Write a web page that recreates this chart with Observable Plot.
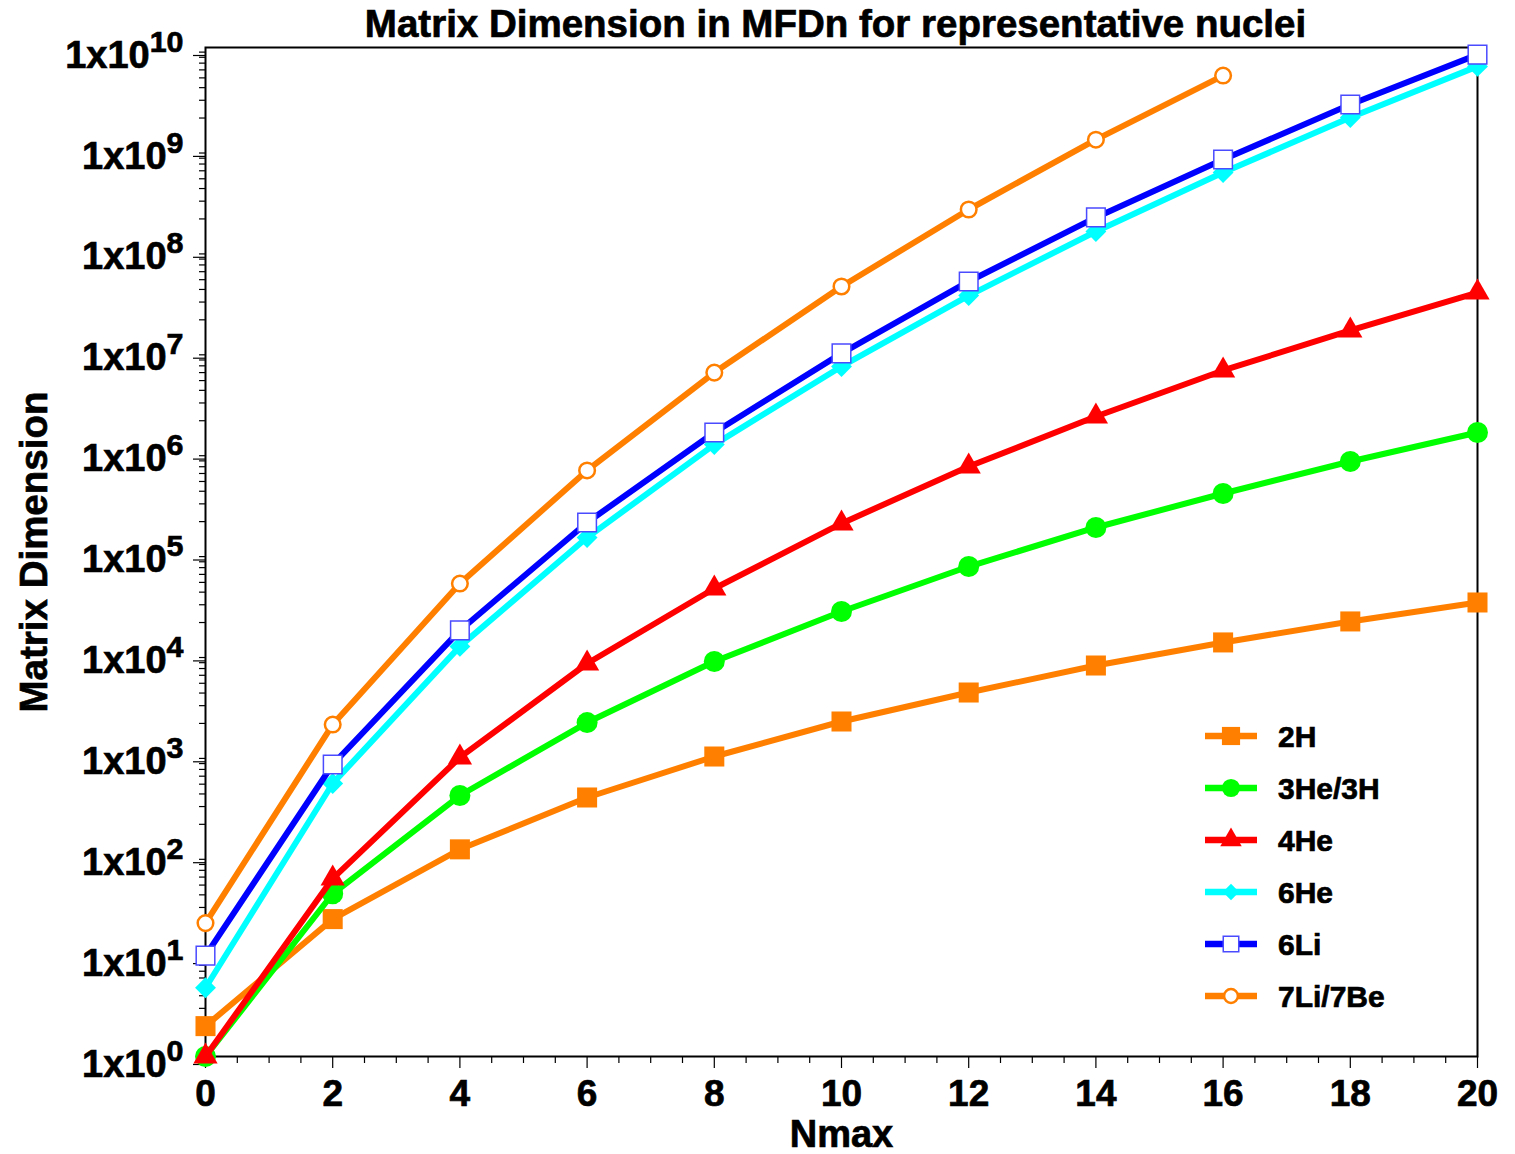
<!DOCTYPE html>
<html><head><meta charset="utf-8">
<script src="https://cdn.jsdelivr.net/npm/d3@7"></script>
<script src="https://cdn.jsdelivr.net/npm/@observablehq/plot@0.6"></script>
<style>
body{margin:0;background:#fff}
#chart svg{display:block}
#chart svg text{stroke:black;stroke-width:0.7px}
</style>
</head><body><div id="chart"></div>
<script>
// ---- data ----
const nmax     = [0, 2, 4, 6, 8, 10, 12, 14, 16, 18, 20];
const nmax7    = [0, 2, 4, 6, 8, 10, 12, 14, 16];
const dim2H    = [2, 23, 113, 369, 940, 2090, 4050, 7500, 12700, 20500, 31600];
const dim3He   = [1, 41, 386, 2040, 8220, 25700, 71800, 175000, 380000, 789000, 1530000];
const dim4He   = [1, 58, 920, 7850, 43500, 192000, 703000, 2200000, 6300000, 15700000, 37300000];
const dim6He   = [4.8, 508, 11600, 139000, 1160000, 6900000, 34800000, 150000000, 577000000, 2020000000, 6500000000];
const dim6Li   = [10, 783, 16700, 196000, 1530000, 9300000, 48000000, 207000000, 776000000, 2720000000, 8500000000];
const dim7Li   = [21, 1950, 48700, 643000, 6000000, 42800000, 248000000, 1220000000, 5270000000];
const seriesNames = ["2H", "3He/3H", "4He", "6He", "6Li", "7Li/7Be"];
const xTicks = [0, 2, 4, 6, 8, 10, 12, 14, 16, 18, 20];
const yExponents = [0, 1, 2, 3, 4, 5, 6, 7, 8, 9, 10];
const titleText = "Matrix Dimension in MFDn for representative nuclei";
const xLabel = "Nmax";
const yLabel = "Matrix Dimension";

// ---- styles ----
const ORANGE = "#ff8000";
const styles = [
  {color: ORANGE,   symbol: "square",   r: 11.3, fill: ORANGE,   stroke: "none",    sw: 0,   lsym: d3.symbolSquare,   lsize: 330},
  {color: "#00ff00", symbol: "circle",   r: 10.5, fill: "#00ff00", stroke: "none",    sw: 0,   lsym: d3.symbolCircle,   lsize: 260},
  {color: "#ff0000", symbol: "triangle", r: 9,    fill: "#ff0000", stroke: "none",    sw: 0,   lsym: d3.symbolTriangle, lsize: 200},
  {color: "#00ffff", symbol: "diamond2", r: 9.4,  fill: "#00ffff", stroke: "none",    sw: 0,   lsym: d3.symbolDiamond2, lsize: 170},
  {color: "#0000ff", symbol: "square",   r: 10.5, fill: "#ffffff", stroke: "#4a4aff", sw: 1.5, lsym: d3.symbolSquare,   lsize: 240},
  {color: ORANGE,   symbol: "circle",   r: 7.8,  fill: "#ffffff", stroke: ORANGE,   sw: 2.5, lsym: d3.symbolCircle,   lsize: 150}
];

const seriesData = [
  [nmax, dim2H], [nmax, dim3He], [nmax, dim4He], [nmax, dim6He], [nmax, dim6Li], [nmax7, dim7Li]
].map(([xs, ys], i) => xs.map((n, j) => ({n, v: ys[j], s: seriesNames[i]})));

const yTicks = yExponents.map(e => 10 ** e);
const yMinor = [];
for (const e of yExponents.slice(0, -1)) for (let k = 2; k <= 9; k++) yMinor.push(k * 10 ** e);
const xMinor = d3.range(0, 20.01, 0.5).filter(v => !xTicks.includes(v));

const font = "'Liberation Sans', Arial, Helvetica, sans-serif";

const marks = [];
seriesData.forEach((rows, i) => {
  const st = styles[i];
  marks.push(Plot.line(rows, {x: "n", y: "v", stroke: st.color, strokeWidth: 6, strokeLinejoin: "round"}));
  marks.push(Plot.dot(rows, {x: "n", y: "v", symbol: () => st.symbol, r: st.r, fill: st.fill,
    stroke: st.stroke, strokeWidth: st.sw}));
});

const chart = Plot.plot({
  width: 1515, height: 1154,
  marginLeft: 205, marginRight: 38, marginTop: 47, marginBottom: 98,
  style: {fontFamily: font, fontWeight: "bold", color: "black", background: "white"},
  x: {domain: [0, 20]},
  y: {type: "log", domain: [1, 1e10]},
  marks: [
    Plot.axisX({ticks: xMinor, tickSize: 7, tickFormat: () => "", label: null, strokeWidth: 1.2}),
    Plot.axisX({ticks: xTicks, tickSize: 12, tickPadding: 11, fontSize: 37, label: null, strokeWidth: 1.2,
      tickFormat: d => String(d)}),
    Plot.axisY({ticks: yMinor, tickSize: 6, tickFormat: () => "", label: null, strokeWidth: 1.2}),
    Plot.axisY({ticks: yTicks, tickSize: 12, tickPadding: 10, fontSize: 38, label: null, strokeWidth: 1.2, dy: 8,
      tickFormat: d => "1x10^" + Math.round(Math.log10(d))}),
    Plot.frame({stroke: "black", strokeWidth: 2}),
    ...marks,
    Plot.text([titleText], {frameAnchor: "top", lineAnchor: "middle", dy: -23, dx: -6, fontSize: 38.5, fontWeight: "bold"}),
    Plot.text([xLabel], {frameAnchor: "bottom", lineAnchor: "middle", dy: 78, fontSize: 38, fontWeight: "bold"}),
    Plot.text([yLabel], {frameAnchor: "left", textAnchor: "middle", lineAnchor: "middle", dx: -171, rotate: -90, fontSize: 38.5, fontWeight: "bold"})
  ]
});

// superscript exponents on the y tick labels
d3.select(chart).selectAll('g[aria-label="y-axis tick label"] text').each(function() {
  const t = d3.select(this);
  const [base, exp] = t.text().split("^");
  t.text(base);
  t.append("tspan").attr("dy", -16).attr("font-size", "0.8em").text(exp);
});

// legend
const lg = d3.select(chart).append("g").attr("font-family", font).attr("font-weight", "bold")
  .attr("text-anchor", "start");
seriesNames.forEach((name, i) => {
  const st = styles[i];
  const yy = 736 + i * 52;
  const g = lg.append("g").attr("transform", `translate(0,${yy})`);
  g.append("line").attr("x1", 1205).attr("x2", 1257).attr("y1", 0).attr("y2", 0)
    .attr("stroke", st.color).attr("stroke-width", 6.5);
  g.append("path").attr("d", d3.symbol().type(st.lsym).size(st.lsize)())
    .attr("transform", "translate(1231,0)")
    .attr("fill", st.fill).attr("stroke", st.stroke).attr("stroke-width", st.sw);
  g.append("text").attr("x", 1278).attr("y", 0).attr("dy", "0.36em").attr("font-size", 30)
    .attr("text-anchor", "start").attr("fill", "black").text(name);
});

document.getElementById("chart").append(chart);
</script>
</body></html>
